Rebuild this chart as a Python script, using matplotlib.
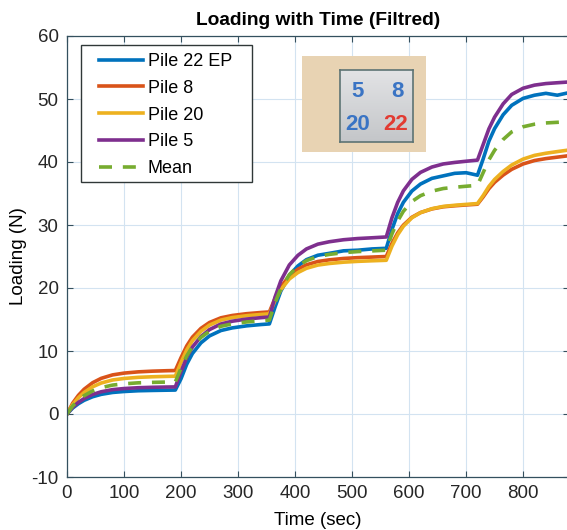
import matplotlib
matplotlib.use("Agg")
import matplotlib.pyplot as plt
from matplotlib.patches import Rectangle
import numpy as np

plt.rcParams['font.family'] = ['Liberation Sans', 'DejaVu Sans']
plt.rcParams['axes.unicode_minus'] = False

time_s = [0, 10, 20, 30, 45, 60, 80, 100, 125, 150, 175, 190,
          200, 210, 220, 235, 250, 270, 290, 315, 340, 355,
          365, 375, 390, 405, 420, 440, 460, 485, 510, 535, 560,
          570, 580, 590, 605, 620, 640, 660, 680, 700, 720,
          730, 740, 750, 765, 780, 800, 820, 840, 860, 880]

pile22 = [0, 0.95, 1.63, 2.17, 2.74, 3.12, 3.42, 3.57, 3.69, 3.74, 3.78, 3.8,
          5.6, 7.9, 9.6, 11.3, 12.4, 13.25, 13.67, 13.99, 14.2, 14.3,
          17.0, 19.5, 22.0, 23.5, 24.5, 25.2, 25.5, 25.9, 26.0, 26.2, 26.3,
          29.3, 31.8, 33.6, 35.4, 36.5, 37.4, 37.8, 38.2, 38.3, 37.9,
          40.5, 43.3, 45.3, 47.5, 49.0, 50.1, 50.6, 50.9, 50.6, 51.0]
pile8 = [0, 1.73, 2.97, 3.93, 4.97, 5.66, 6.21, 6.49, 6.69, 6.80, 6.87, 6.9,
         8.95, 10.81, 12.20, 13.6, 14.53, 15.27, 15.64, 15.92, 16.11, 16.2,
         18.4, 20.16, 21.92, 22.98, 23.68, 24.21, 24.47, 24.69, 24.82, 24.91, 25.0,
         27.08, 28.74, 29.98, 31.23, 31.97, 32.55, 32.89, 33.05, 33.18, 33.3,
         34.46, 35.76, 36.77, 37.92, 38.84, 39.69, 40.23, 40.54, 40.77, 41.0]
pile20 = [0, 1.5, 2.58, 3.42, 4.32, 4.92, 5.4, 5.64, 5.82, 5.91, 5.97, 6.0,
          8.18, 10.16, 11.64, 13.13, 14.12, 14.91, 15.31, 15.6, 15.8, 15.9,
          18.03, 19.73, 21.43, 22.45, 23.13, 23.64, 23.89, 24.1, 24.23, 24.32, 24.4,
          26.65, 28.45, 29.8, 31.15, 31.96, 32.59, 32.95, 33.13, 33.27, 33.4,
          34.68, 36.12, 37.23, 38.5, 39.52, 40.46, 41.05, 41.39, 41.65, 41.9]
pile5 = [0, 1.08, 1.85, 2.45, 3.1, 3.53, 3.87, 4.04, 4.17, 4.24, 4.28, 4.3,
         6.74, 8.96, 10.63, 12.29, 13.4, 14.29, 14.73, 15.07, 15.29, 15.4,
         18.58, 21.12, 23.66, 25.18, 26.2, 26.96, 27.34, 27.66, 27.85, 27.97, 28.1,
         31.15, 33.59, 35.42, 37.25, 38.35, 39.2, 39.69, 39.93, 40.12, 40.3,
         42.78, 45.26, 47.12, 49.23, 50.72, 51.71, 52.2, 52.45, 52.58, 52.7]
mean = [0, 1.28, 2.19, 2.91, 3.67, 4.18, 4.59, 4.79, 4.95, 5.02, 5.07, 5.1,
        7.26, 9.22, 10.69, 12.16, 13.14, 13.92, 14.31, 14.61, 14.8, 14.9,
        17.68, 19.9, 22.12, 23.45, 24.34, 25.0, 25.33, 25.61, 25.78, 25.89, 26.0,
        28.58, 30.64, 32.18, 33.73, 34.65, 35.37, 35.79, 35.99, 36.15, 36.3,
        38.32, 40.34, 41.86, 43.57, 44.78, 45.59, 46.0, 46.2, 46.3, 46.4]

labels = ['Pile 22 EP', 'Pile 8', 'Pile 20', 'Pile 5', 'Mean']
colors = ['#0072BD', '#D95319', '#EDB120', '#7E2F8E', '#77AC30']
xticks = [0, 100, 200, 300, 400, 500, 600, 700, 800]
yticks = [-10, 0, 10, 20, 30, 40, 50, 60]

fig = plt.figure(figsize=(5.67, 5.30), dpi=100)
ax = fig.add_axes([67/567, 1 - 477/530, 1.003 - 67/567, (477 - 36)/530])

series = [pile22, pile8, pile20, pile5]
for s, lab, c in zip(series, labels[:4], colors[:4]):
    ax.plot(time_s, s, color=c, lw=2.6, label=lab)
ax.plot(time_s, mean, color=colors[4], lw=2.6, ls=(0, (3.6, 3.0)), label=labels[4])

ax.set_xlim(0, 880)
ax.set_ylim(-10, 60)
ax.set_xticks(xticks)
ax.set_yticks(yticks)
ax.grid(True, color='#d3e3f1', lw=0.8)
ax.set_axisbelow(True)
ax.tick_params(direction='in', top=True, right=True, labelsize=13.5,
               labelcolor='#262626', color='#34505e', length=4, pad=6)
for sp in ax.spines.values():
    sp.set_color('#34505e')
    sp.set_linewidth(0.9)

ax.set_title('Loading with Time (Filtred)', fontsize=13.8, fontweight='bold', pad=8)
ax.set_xlabel('Time (sec)', fontsize=13.5, labelpad=7)
ax.set_ylabel('Loading (N)', fontsize=13.5, labelpad=3)

# legend box (frame drawn separately for MATLAB-like padding)
ax.add_patch(Rectangle((81/567, 1 - 182/530), (252 - 81)/567, (182 - 45)/530,
                       transform=fig.transFigure, facecolor='white',
                       edgecolor='#303838', lw=1.0, zorder=4))
leg = ax.legend(loc='upper left', bbox_to_anchor=(99/567, 1 - 53/530),
                bbox_transform=fig.transFigure, borderaxespad=0,
                fontsize=13, handlelength=2.45, handletextpad=0.25,
                labelspacing=0.54, frameon=False, borderpad=0)
leg.set_zorder(5)

# inset picture
fig.patches.append(Rectangle((302/567, 1 - 152/530), 124/567, 96/530,
                             transform=fig.transFigure, facecolor='#e8d3b3',
                             edgecolor='none', zorder=5))
iax = fig.add_axes([340/567, 1 - 142/530, 73/567, 72/530], zorder=6)
grad = np.linspace(0, 1, 50)[:, None] * np.ones((1, 50))
iax.imshow(grad, cmap=plt.matplotlib.colors.LinearSegmentedColormap.from_list(
    'g', ['#e2e3e5', '#c4c6c9']), aspect='auto', extent=(0, 1, 0, 1))
iax.set_xticks([]); iax.set_yticks([])
for sp in iax.spines.values():
    sp.set_color('#5d7474'); sp.set_linewidth(1.2)
iax.text(0.24, 0.70, '5', color='#3a74c4', fontsize=16, fontweight='bold', ha='center', va='center')
iax.text(0.78, 0.70, '8', color='#3a74c4', fontsize=16, fontweight='bold', ha='center', va='center')
iax.text(0.24, 0.24, '20', color='#3a74c4', fontsize=16, fontweight='bold', ha='center', va='center')
iax.text(0.76, 0.24, '22', color='#e23b32', fontsize=16, fontweight='bold', ha='center', va='center')

fig.savefig('out.png', dpi=100)
